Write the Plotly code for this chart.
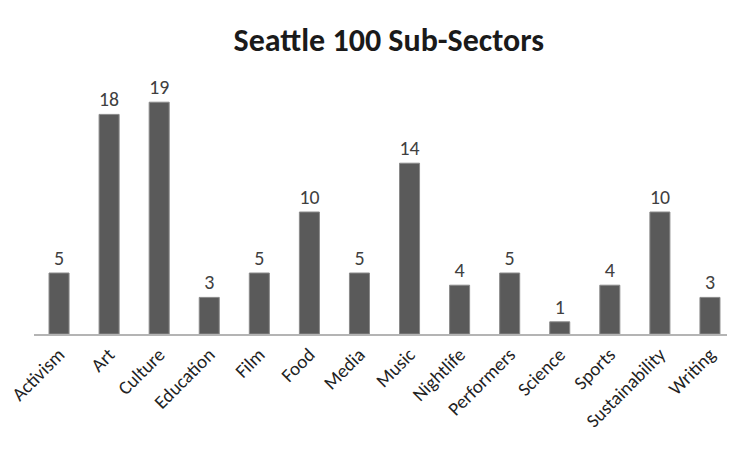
import plotly.graph_objects as go

categories = ["Activism", "Art", "Culture", "Education", "Film", "Food", "Media",
              "Music", "Nightlife", "Performers", "Science", "Sports",
              "Sustainability", "Writing"]
counts = [5, 18, 19, 3, 5, 10, 5, 14, 4, 5, 1, 4, 10, 3]

FONT = "Carlito, Lato, 'Open Sans', sans-serif"

fig = go.Figure(go.Bar(
    x=categories,
    y=counts,
    text=[str(v) for v in counts],
    textposition="outside",
    textfont=dict(family=FONT, size=20, color="#404040"),
    cliponaxis=False,
    marker=dict(color="#5a5a5a", line=dict(color="#8a8a8a", width=1)),
))

fig.update_layout(
    width=735, height=450,
    margin=dict(l=26, r=8, t=82, b=124),
    paper_bgcolor="white", plot_bgcolor="white",
    bargap=0.6,
    showlegend=False,
    title=dict(text="<b>Seattle 100 Sub-Sectors</b>", x=0.518, xanchor="center",
               y=0.929, yanchor="middle",
               font=dict(family=FONT, size=32, color="#1a1a1a")),
)
fig.update_xaxes(
    tickangle=-45,
    tickfont=dict(family=FONT, size=19, color="#222222"),
    showline=True, linecolor="#b4b4b4", linewidth=2,
    ticks="", showgrid=False, automargin=False,
)
fig.update_yaxes(visible=False, range=[0, 20], automargin=False)

fig.write_html("out.html")
